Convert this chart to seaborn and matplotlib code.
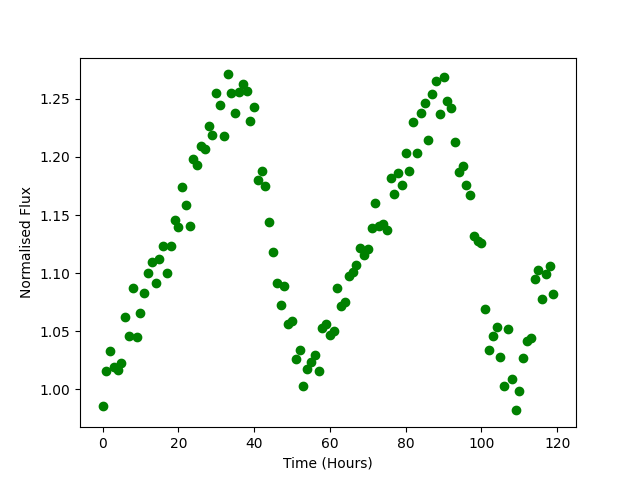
import numpy as np
import pandas as pd
import matplotlib
matplotlib.use("Agg")
import matplotlib.pyplot as plt
import seaborn as sns


# hourly readings
hours = list(range(120))
flux = [
    0.986, 1.016, 1.033, 1.019, 1.017, 1.023, 1.062, 1.046, 1.087, 1.045,
    1.066, 1.083, 1.100, 1.110, 1.092, 1.112, 1.123, 1.100, 1.123, 1.146,
    1.140, 1.174, 1.159, 1.141, 1.198, 1.193, 1.209, 1.207, 1.227, 1.219,
    1.255, 1.245, 1.218, 1.271, 1.255, 1.238, 1.256, 1.263, 1.257, 1.231,
    1.243, 1.180, 1.188, 1.175, 1.144, 1.118, 1.092, 1.073, 1.089, 1.056,
    1.059, 1.026, 1.034, 1.003, 1.018, 1.024, 1.030, 1.016, 1.053, 1.056,
    1.047, 1.050, 1.087, 1.072, 1.075, 1.098, 1.101, 1.107, 1.122, 1.116,
    1.121, 1.139, 1.160, 1.141, 1.142, 1.137, 1.182, 1.168, 1.186, 1.176,
    1.203, 1.188, 1.230, 1.203, 1.238, 1.246, 1.215, 1.254, 1.265, 1.237,
    1.269, 1.248, 1.242, 1.213, 1.187, 1.192, 1.176, 1.167, 1.132, 1.128,
    1.126, 1.069, 1.034, 1.046, 1.054, 1.028, 1.003, 1.052, 1.009, 0.982,
    0.999, 1.027, 1.042, 1.044, 1.095, 1.103, 1.078, 1.099, 1.106, 1.082,
]

df = pd.DataFrame({"time": hours, "flux": flux})

fig, ax = plt.subplots(figsize=(6.4, 4.8), dpi=100)
sns.scatterplot(data=df, x="time", y="flux", color="green",
                edgecolor="green", linewidth=1.0, s=36, ax=ax)
ax.set_xlabel("Time (Hours)")
ax.set_ylabel("Normalised Flux")
fig.savefig("out.png")
